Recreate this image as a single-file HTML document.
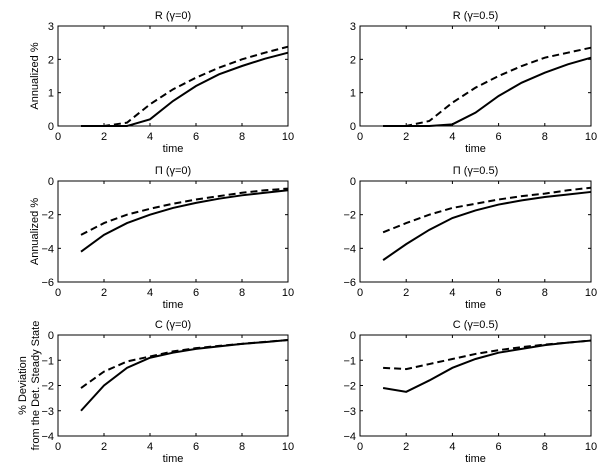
<!DOCTYPE html>
<html><head><meta charset="utf-8"><style>
html,body{margin:0;padding:0;background:#fff}
svg{display:block;font-family:"Liberation Sans",sans-serif}
</style></head><body>
<svg id="fig" width="600" height="470" viewBox="0 0 600 470"></svg>
<script>
const timeX = [1,2,3,4,5,6,7,8,9,10];
const xTicks = [0,2,4,6,8,10];
const rG0Solid = [0,0,0,0.2,0.75,1.2,1.55,1.8,2.02,2.2];
const rG0Dash = [0,0,0.1,0.65,1.1,1.45,1.75,2.0,2.2,2.38];
const rG5Solid = [0,0,0,0.05,0.4,0.9,1.3,1.6,1.85,2.05];
const rG5Dash = [0,0,0.15,0.7,1.15,1.5,1.8,2.05,2.2,2.35];
const piG0Solid = [-4.2,-3.2,-2.5,-2.0,-1.6,-1.3,-1.05,-0.85,-0.7,-0.55];
const piG0Dash = [-3.2,-2.5,-2.0,-1.65,-1.35,-1.1,-0.9,-0.7,-0.55,-0.45];
const piG5Solid = [-4.7,-3.75,-2.9,-2.2,-1.75,-1.4,-1.15,-0.95,-0.8,-0.65];
const piG5Dash = [-3.05,-2.5,-2.0,-1.6,-1.35,-1.1,-0.9,-0.75,-0.55,-0.4];
const cG0Solid = [-3.0,-2.0,-1.3,-0.9,-0.7,-0.55,-0.45,-0.35,-0.28,-0.2];
const cG0Dash = [-2.1,-1.45,-1.05,-0.85,-0.65,-0.52,-0.43,-0.35,-0.27,-0.2];
const cG5Solid = [-2.1,-2.25,-1.8,-1.3,-0.95,-0.7,-0.55,-0.4,-0.3,-0.22];
const cG5Dash = [-1.3,-1.35,-1.15,-0.95,-0.75,-0.6,-0.48,-0.38,-0.3,-0.22];
const rTicks = [0,1,2,3];
const piTicks = [-6,-4,-2,0];
const cTicks = [-4,-3,-2,-1,0];

const NS="http://www.w3.org/2000/svg";
const svg=document.getElementById('fig');
function mk(tag,attrs,parent){const e=document.createElementNS(NS,tag);for(const k in attrs)e.setAttribute(k,attrs[k]);(parent||svg).appendChild(e);return e;}

const panels=[
 {name:'r-gamma0',title:'R (γ=0)',x0:58,x1:288,y0:26,y1:126,ticks:rTicks,solid:rG0Solid,dash:rG0Dash,ylab:['Annualized %']},
 {name:'r-gamma05',title:'R (γ=0.5)',x0:360,x1:591,y0:26,y1:126,ticks:rTicks,solid:rG5Solid,dash:rG5Dash,ylab:null},
 {name:'pi-gamma0',title:'Π (γ=0)',x0:58,x1:288,y0:181,y1:282,ticks:piTicks,solid:piG0Solid,dash:piG0Dash,ylab:['Annualized %']},
 {name:'pi-gamma05',title:'Π (γ=0.5)',x0:360,x1:591,y0:181,y1:282,ticks:piTicks,solid:piG5Solid,dash:piG5Dash,ylab:null},
 {name:'c-gamma0',title:'C (γ=0)',x0:58,x1:288,y0:335,y1:436,ticks:cTicks,solid:cG0Solid,dash:cG0Dash,ylab:['% Deviation','from the Det. Steady State']},
 {name:'c-gamma05',title:'C (γ=0.5)',x0:360,x1:591,y0:335,y1:436,ticks:cTicks,solid:cG5Solid,dash:cG5Dash,ylab:null}
];

panels.forEach(p=>{
 const g=mk('g',{});
 
 
 const ymin=p.ticks[0], ymax=p.ticks[p.ticks.length-1];
 const sx=v=>p.x0+(v-0)/(10-0)*(p.x1-p.x0);
 const sy=v=>p.y1-(v-ymin)/(ymax-ymin)*(p.y1-p.y0);
 const box=mk('rect',{x:p.x0,y:p.y0,width:p.x1-p.x0,height:p.y1-p.y0,fill:'none',stroke:'#000','stroke-width':1},g);
 
 
 xTicks.forEach(t=>{
  const x=sx(t);
  mk('line',{x1:x,x2:x,y1:p.y1,y2:p.y1-3,stroke:'#000'},g);
  mk('line',{x1:x,x2:x,y1:p.y0,y2:p.y0+3,stroke:'#000'},g);
  const tx=mk('text',{x:x,y:p.y1+14,'font-size':11,'text-anchor':'middle'},g);
  tx.textContent=t;
  
  
 });
 p.ticks.forEach(t=>{
  const y=sy(t);
  mk('line',{x1:p.x0,x2:p.x0+3,y1:y,y2:y,stroke:'#000'},g);
  mk('line',{x1:p.x1,x2:p.x1-3,y1:y,y2:y,stroke:'#000'},g);
  const tx=mk('text',{x:p.x0-4,y:y+4,'font-size':11,'text-anchor':'end'},g);
  tx.textContent=t<0?'\u2212'+Math.abs(t):t;
  
  
 });
 const tt=mk('text',{x:(p.x0+p.x1)/2,y:p.y0-7,'font-size':11,'text-anchor':'middle'},g);
 tt.textContent=p.title;
 
 
 const xl=mk('text',{x:(p.x0+p.x1)/2,y:p.y1+26,'font-size':11,'text-anchor':'middle'},g);
 xl.textContent='time';
 
 
 if(p.ylab){
  const cy=(p.y0+p.y1)/2;
  p.ylab.forEach((s,i)=>{
   const x= p.ylab.length===1?38:(26+i*13);
   const yl=mk('text',{x:x,y:cy,'font-size':11,'text-anchor':'middle',transform:`rotate(-90 ${x} ${cy})`},g);
   yl.textContent=s;
   
   
  });
 }
 const pts=arr=>arr.map((v,i)=>sx(timeX[i]).toFixed(2)+','+sy(v).toFixed(2)).join(' ');
 const ld=mk('polyline',{points:pts(p.dash),fill:'none',stroke:'#000','stroke-width':2,'stroke-dasharray':'7,4'},g);
 
 
 const ls=mk('polyline',{points:pts(p.solid),fill:'none',stroke:'#000','stroke-width':2},g);
 
 
});
</script>
</body></html>
